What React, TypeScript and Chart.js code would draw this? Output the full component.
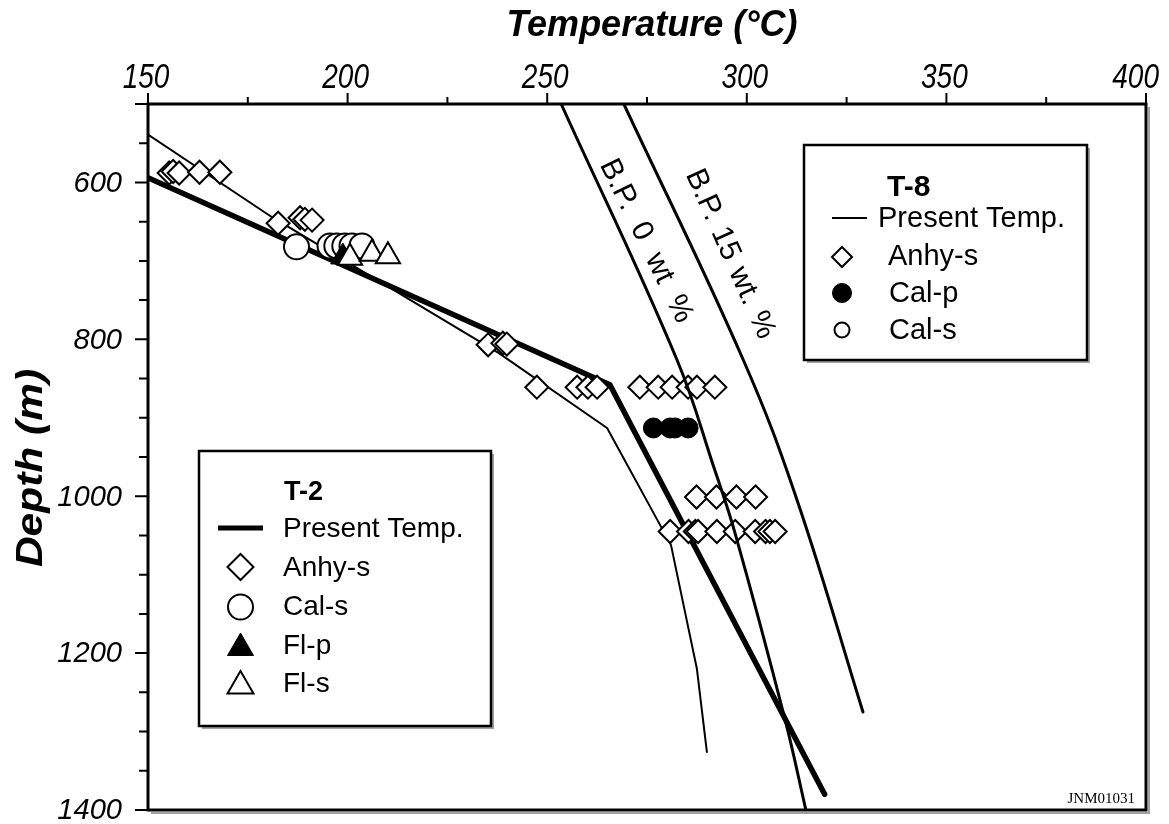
import React, { useEffect, useRef } from 'react';
import { Chart, registerables } from 'chart.js';

Chart.register(...registerables);

// ---- axis ticks ----
const xMajorTicks = [150, 200, 250, 300, 350, 400];
const xMinorTicks = [175, 225, 275, 325, 375];
const yLabelTicks = [600, 800, 1000, 1200, 1400];
const yMajorTicks = [500, 600, 800, 1000, 1200, 1400];
const yMinorTicks = [550, 650, 700, 750, 850, 900, 950, 1050, 1100, 1150, 1250, 1300, 1350];

// ---- T-2 (thick line) ----
const t2PresentTemp = [150, 265.7, 319.5];
const t2PresentDepth = [594, 858, 1380];

const t2AnhyTemp = [155.3, 156.3, 157.8, 182.6, 188.1, 189.3, 191.1, 235.2, 238.9, 239.9, 247.4, 257.5, 260.2, 262.5];
const t2AnhyDepth = [588, 586, 588, 652, 645, 647, 648, 807, 805, 806, 861, 861, 861, 861];

const t2CalsTemp = [187.2, 195.6, 197.3, 199.3, 201.1, 203.6];
const t2CalsDepth = [682, 681, 681, 681, 681, 681];

const t2FlpTemp = [198.8];
const t2FlpDepth = [695];

const t2FlsTemp = [200.6, 206.1, 210.1];
const t2FlsDepth = [696, 691, 694];

// ---- T-8 (thin line) ----
const t8PresentTemp = [150, 181, 237.7, 265, 281, 287.5, 290];
const t8PresentDepth = [539, 644, 817, 913, 1062, 1220, 1326];

const t8AnhyTemp = [162.9, 168.0, 273.2, 277.8, 281.3, 285.3, 287.5, 292.0, 287.4, 292.4, 297.4, 302.2, 280.8, 285.4, 287.1, 287.8, 292.5, 297.1, 302.1, 304.7, 305.8, 307.1];
const t8AnhyDepth = [587, 587, 861, 861, 861, 861, 861, 861, 1001, 1001, 1001, 1001, 1045, 1045, 1045, 1045, 1045, 1045, 1045, 1045, 1045, 1045];

const t8CalpTemp = [276.6, 280.8, 282.0, 285.3];
const t8CalpDepth = [913, 913, 913, 913];

// ---- boiling point curves ----
const bp0Temp = [253.5, 282.5, 292.0, 297.0, 309.6, 314.8];
const bp0Depth = [500, 826, 967, 1046, 1285, 1400];
const bp15Temp = [269.2, 299.1, 312.6, 329.1];
const bp15Depth = [500, 826, 1005, 1275];

const pts = (xs: number[], ys: number[]) => xs.map((x, i) => ({ x, y: ys[i] }));

const OFF = 8; // canvas offset from page (body margin)
const P = (v: number) => v - OFF;
const SANS = '"Liberation Sans", Arial, sans-serif';

function drawMarker(ctx: CanvasRenderingContext2D, style: string, x: number, y: number, r: number, fill: string, lw: number) {
  ctx.save();
  ctx.beginPath();
  if (style === 'circle') {
    ctx.arc(x, y, r, 0, Math.PI * 2);
  } else if (style === 'diamond') {
    ctx.moveTo(x - r, y);
    ctx.lineTo(x, y - r);
    ctx.lineTo(x + r, y);
    ctx.lineTo(x, y + r);
    ctx.closePath();
  } else if (style === 'triangle') {
    ctx.moveTo(x, y - r);
    ctx.lineTo(x + 0.866 * r, y + 0.5 * r);
    ctx.lineTo(x - 0.866 * r, y + 0.5 * r);
    ctx.closePath();
  }
  ctx.fillStyle = fill;
  ctx.fill();
  ctx.lineWidth = lw;
  ctx.strokeStyle = '#000';
  ctx.lineJoin = 'miter';
  ctx.stroke();
  ctx.restore();
}

function scaledText(ctx: CanvasRenderingContext2D, text: string, x: number, y: number, sx: number, align: CanvasTextAlign) {
  ctx.save();
  ctx.translate(x, y);
  ctx.scale(sx, 1);
  ctx.textAlign = align;
  ctx.fillText(text, 0, 0);
  ctx.restore();
}

const decoPlugin = {
  id: 'deco',
  afterDraw(chart: any) {
    const ctx: any = chart.ctx;
    const xs = chart.scales.x;
    const ys = chart.scales.y;
    const { left: L, right: R, top: T, bottom: B } = chart.chartArea;
    ctx.save();

    // frame shadow + frame
    ctx.strokeStyle = '#a0a0a0';
    ctx.lineWidth = 2;
    ctx.beginPath();
    ctx.moveTo(R + 3, T + 3);
    ctx.lineTo(R + 3, B + 3);
    ctx.lineTo(L + 3, B + 3);
    ctx.stroke();
    ctx.strokeStyle = '#000';
    ctx.lineWidth = 3;
    ctx.strokeRect(L, T, R - L, B - T);

    // x ticks (top, pointing up)
    ctx.lineWidth = 2;
    ctx.beginPath();
    xMajorTicks.forEach((v) => {
      const px = xs.getPixelForValue(v);
      ctx.moveTo(px, T);
      ctx.lineTo(px, T - 11);
    });
    xMinorTicks.forEach((v) => {
      const px = xs.getPixelForValue(v);
      ctx.moveTo(px, T);
      ctx.lineTo(px, T - 7);
    });
    // y ticks (left, pointing left)
    yMajorTicks.forEach((v) => {
      const py = ys.getPixelForValue(v);
      ctx.moveTo(L, py);
      ctx.lineTo(L - 13, py);
    });
    yMinorTicks.forEach((v) => {
      const py = ys.getPixelForValue(v);
      ctx.moveTo(L, py);
      ctx.lineTo(L - 9, py);
    });
    ctx.stroke();

    ctx.fillStyle = '#000';
    ctx.textBaseline = 'alphabetic';
    // x tick labels (kept inside the visible page width)
    ctx.font = `italic 35px ${SANS}`;
    const sx = 0.8;
    xMajorTicks.forEach((v) => {
      const px = xs.getPixelForValue(v);
      const half = (ctx.measureText(String(v)).width * sx) / 2;
      const cx = Math.min(px - 2, P(1159) - half);
      scaledText(ctx, String(v), cx, P(88), sx, 'center');
    });
    // y tick labels
    ctx.font = `italic 30px ${SANS}`;
    ctx.textBaseline = 'middle';
    yLabelTicks.forEach((v) => {
      const py = ys.getPixelForValue(v);
      scaledText(ctx, String(v), P(122), py + 1, 0.97, 'right');
    });

    // axis titles
    ctx.textBaseline = 'alphabetic';
    ctx.font = `italic bold 36px ${SANS}`;
    ctx.textAlign = 'center';
    ctx.fillText('Temperature (°C)', P(652), P(36));
    ctx.save();
    ctx.translate(P(42), P(468));
    ctx.rotate(-Math.PI / 2);
    ctx.scale(1.18, 1);
    ctx.fillText('Depth (m)', 0, 0);
    ctx.restore();

    // B.P. curve labels
    ctx.font = `30px ${SANS}`;
    ctx.textBaseline = 'middle';
    ctx.save();
    ctx.translate(P(646), P(241));
    ctx.rotate((64 * Math.PI) / 180);
    ctx.wordSpacing = '9px';
    ctx.fillText('B.P. 0 wt %', 0, 0);
    ctx.restore();
    ctx.save();
    ctx.translate(P(730), P(254));
    ctx.rotate((66 * Math.PI) / 180);
    ctx.wordSpacing = '2px';
    ctx.fillText('B.P. 15 wt. %', 0, 0);
    ctx.restore();

    // code label
    ctx.font = `15px "Liberation Serif", "Times New Roman", serif`;
    ctx.textAlign = 'right';
    ctx.textBaseline = 'alphabetic';
    ctx.fillText('JNM01031', P(1135), P(803));

    const drawBox = (x0: number, y0: number, x1: number, y1: number) => {
      ctx.fillStyle = '#fff';
      ctx.fillRect(P(x0), P(y0), x1 - x0, y1 - y0);
      ctx.strokeStyle = '#a0a0a0';
      ctx.lineWidth = 2;
      ctx.beginPath();
      ctx.moveTo(P(x1) + 2, P(y0) + 3);
      ctx.lineTo(P(x1) + 2, P(y1) + 2);
      ctx.lineTo(P(x0) + 3, P(y1) + 2);
      ctx.stroke();
      ctx.strokeStyle = '#000';
      ctx.lineWidth = 2.5;
      ctx.strokeRect(P(x0), P(y0), x1 - x0, y1 - y0);
    };

    // ---- Legend T-8 ----
    drawBox(804, 145, 1087, 360);
    ctx.fillStyle = '#000';
    ctx.textAlign = 'left';
    ctx.textBaseline = 'middle';
    ctx.font = `bold 30px ${SANS}`;
    ctx.fillText('T-8', P(887), P(188));
    ctx.font = `29px ${SANS}`;
    ctx.fillText('Present Temp.', P(878), P(219));
    ctx.fillText('Anhy-s', P(888), P(257));
    ctx.fillText('Cal-p', P(889), P(294));
    ctx.fillText('Cal-s', P(889), P(331));
    ctx.strokeStyle = '#000';
    ctx.lineWidth = 2;
    ctx.beginPath();
    ctx.moveTo(P(832), P(218));
    ctx.lineTo(P(867), P(218));
    ctx.stroke();
    drawMarker(ctx, 'diamond', P(842), P(257), 10, '#fff', 2);
    drawMarker(ctx, 'circle', P(842), P(293), 9.5, '#000', 1);
    drawMarker(ctx, 'circle', P(842), P(330), 7.5, '#fff', 2);

    // ---- Legend T-2 ----
    drawBox(199, 451, 491, 726);
    ctx.fillStyle = '#000';
    ctx.textAlign = 'left';
    ctx.textBaseline = 'middle';
    ctx.font = `bold 27px ${SANS}`;
    ctx.fillText('T-2', P(284), P(493));
    ctx.font = `28px ${SANS}`;
    ctx.fillText('Present Temp.', P(283), P(529));
    ctx.fillText('Anhy-s', P(283), P(568));
    ctx.fillText('Cal-s', P(283), P(607));
    ctx.fillText('Fl-p', P(283), P(646));
    ctx.fillText('Fl-s', P(283), P(684));
    ctx.strokeStyle = '#000';
    ctx.lineWidth = 5;
    ctx.beginPath();
    ctx.moveTo(P(218), P(528));
    ctx.lineTo(P(263), P(528));
    ctx.stroke();
    drawMarker(ctx, 'diamond', P(240.5), P(567), 13, '#fff', 2);
    drawMarker(ctx, 'circle', P(240.5), P(607), 12.5, '#fff', 2);
    drawMarker(ctx, 'triangle', P(240.5), P(648), 15, '#000', 1);
    drawMarker(ctx, 'triangle', P(240.5), P(686), 15, '#fff', 2);

    ctx.restore();
  },
};

export default function App() {
  const ref = useRef<HTMLCanvasElement | null>(null);

  useEffect(() => {
    if (!ref.current) return;
    const open = (data: any[], style: string, r: number) => ({
      data,
      pointStyle: style,
      pointRadius: r,
      pointHoverRadius: r,
      pointBackgroundColor: '#fff',
      pointBorderColor: '#000',
      pointBorderWidth: 2,
      showLine: false,
    });
    const filled = (data: any[], style: string, r: number) => ({
      data,
      pointStyle: style,
      pointRadius: r,
      pointHoverRadius: r,
      pointBackgroundColor: '#000',
      pointBorderColor: '#000',
      pointBorderWidth: 1,
      showLine: false,
    });
    const line = (data: any[], w: number, tension: number) => ({
      data,
      showLine: true,
      borderColor: '#000',
      borderWidth: w,
      pointRadius: 0,
      pointHoverRadius: 0,
      tension,
      borderCapStyle: 'round',
      borderJoinStyle: 'round',
      fill: false,
    });

    const chart = new Chart(ref.current, {
      type: 'scatter',
      data: {
        datasets: [
          { label: 'B.P. 0 wt %', ...line(pts(bp0Temp, bp0Depth), 3, 0.4) },
          { label: 'B.P. 15 wt. %', ...line(pts(bp15Temp, bp15Depth), 3, 0.4) },
          { label: 'T-8 Cal-p', ...filled(pts(t8CalpTemp, t8CalpDepth), 'circle', 10) },
          { label: 'T-8 Anhy-s', ...open(pts(t8AnhyTemp, t8AnhyDepth), 'rectRot', 11.5) },
          { label: 'T-2 Fl-s', ...open(pts(t2FlsTemp, t2FlsDepth), 'triangle', 14) },
          { label: 'T-2 Fl-p', ...filled(pts(t2FlpTemp, t2FlpDepth), 'triangle', 14) },
          { label: 'T-2 Cal-s', ...open(pts(t2CalsTemp, t2CalsDepth), 'circle', 12.5) },
          { label: 'T-2 Anhy-s', ...open(pts(t2AnhyTemp, t2AnhyDepth), 'rectRot', 11.5) },
          { label: 'T-8 Present Temp.', ...line(pts(t8PresentTemp, t8PresentDepth), 2, 0) },
          { label: 'T-2 Present Temp.', ...line(pts(t2PresentTemp, t2PresentDepth), 5.5, 0) },
        ] as any,
      },
      options: {
        animation: false,
        responsive: false,
        layout: { autoPadding: false, padding: { left: 140, top: 96, right: 15, bottom: 14 } },
        scales: {
          x: { type: 'linear', min: 150, max: 400, display: false },
          y: { type: 'linear', min: 500, max: 1400, reverse: true, display: false },
        },
        plugins: {
          legend: { display: false },
          tooltip: { enabled: false },
        },
        events: [],
      } as any,
      plugins: [decoPlugin],
    });
    return () => chart.destroy();
  }, []);

  return (
    <div style={{ width: 1153, height: 816 }}>
      <canvas ref={ref} width={1153} height={816} style={{ display: 'block' }} />
    </div>
  );
}
